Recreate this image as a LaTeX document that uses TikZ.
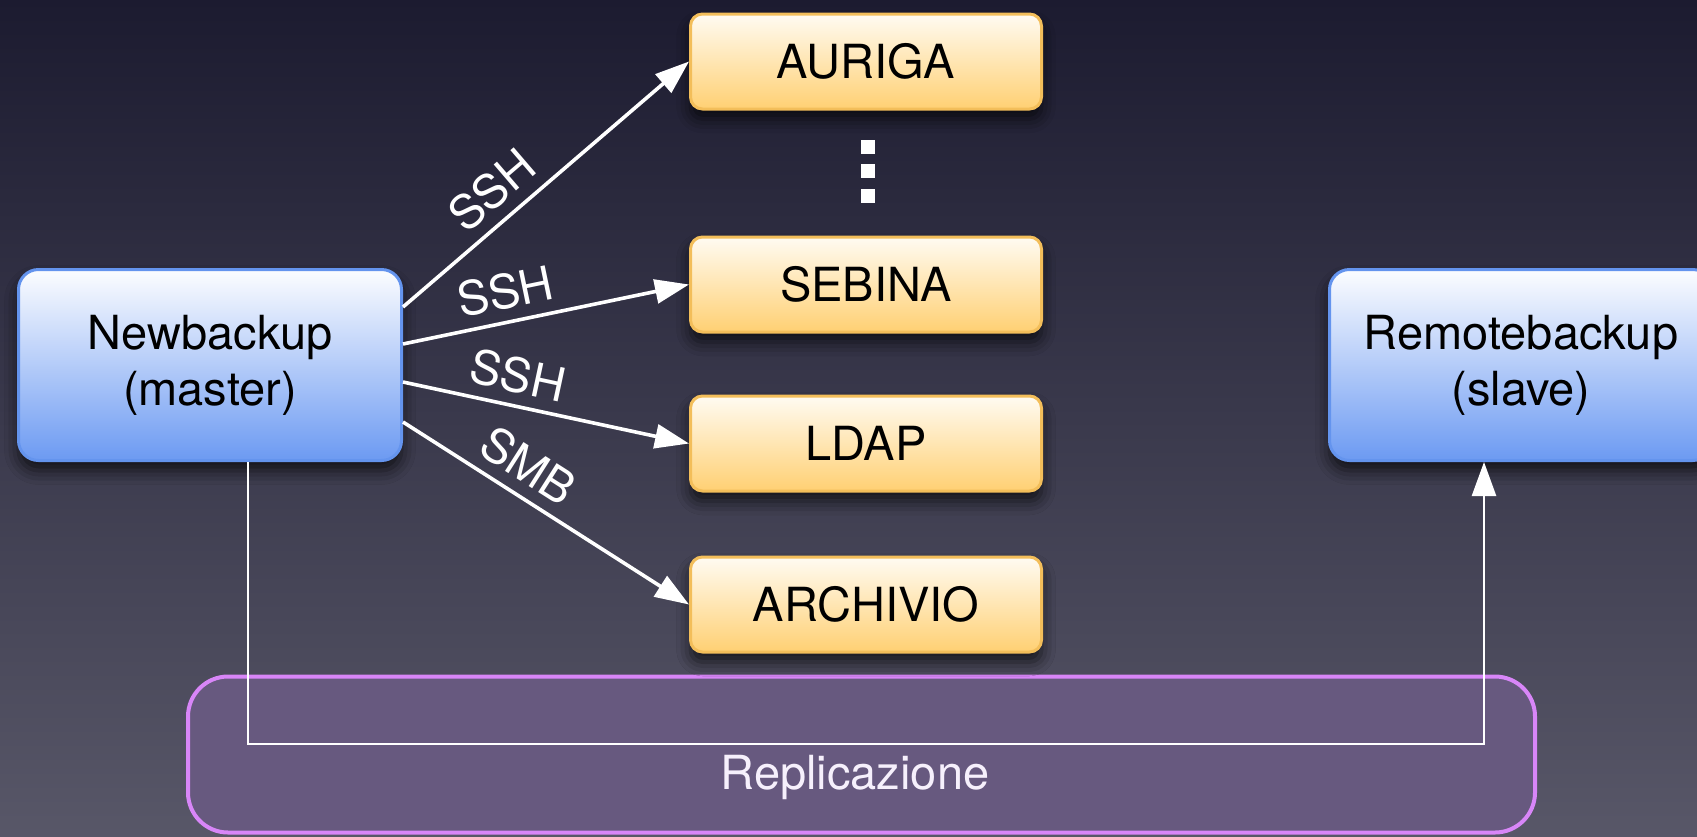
\documentclass[tikz,border=0pt]{standalone}
\usepackage{fontspec}
\setmainfont{TeX Gyre Heros}
\usetikzlibrary{arrows.meta,shadows.blur}
\definecolor{bgtop}{RGB}{28,27,48}
\definecolor{bgbot}{RGB}{88,87,104}
\definecolor{bluetop}{RGB}{252,253,255}
\definecolor{bluebot}{RGB}{108,154,242}
\definecolor{blueline}{RGB}{100,148,238}
\definecolor{orgtop}{RGB}{255,251,242}
\definecolor{orgbot}{RGB}{255,208,115}
\definecolor{orgline}{RGB}{243,190,90}
\definecolor{replfill}{RGB}{103,89,127}
\definecolor{replline}{RGB}{216,134,248}
\definecolor{repltext}{RGB}{246,240,252}
\tikzset{
  boxfont/.style={font=\fontsize{23.5}{28}\selectfont},
  hostbox/.style={draw=blueline, line width=1.5pt, rounded corners=10pt,
    top color=bluetop, bottom color=bluebot, minimum width=191.5pt,
    minimum height=95.5pt, align=center, boxfont,
    blur shadow={shadow xshift=0pt, shadow yshift=-5pt, shadow blur radius=7pt, shadow opacity=70}},
  srvbox/.style={draw=orgline, line width=1.5pt, rounded corners=6pt,
    top color=orgtop, bottom color=orgbot, minimum width=175.5pt,
    minimum height=47.5pt, boxfont,
    blur shadow={shadow xshift=0pt, shadow yshift=-5pt, shadow blur radius=7pt, shadow opacity=70}},
  link/.style={draw=white, line width=1.8pt, -{Triangle[length=17pt,width=12pt]}},
  proto/.style={text=white, boxfont, sloped, above=3.5pt, inner sep=2pt},
  replbox/.style={draw=replline, line width=2pt, rounded corners=20pt,
    fill=replfill, minimum width=673.5pt, minimum height=78pt},
  repline/.style={draw=white, line width=1.3pt, -{Triangle[length=17pt,width=12pt]}},
  vdot/.style={fill=white}
}
\begin{document}
\begin{tikzpicture}[x=0.5pt,y=-0.5pt]
\useasboundingbox (0,0) rectangle (1697,836);
\clip (0,0) rectangle (1697,836);
\shade[top color=bgtop, bottom color=bgbot] (0,0) rectangle (1697,836);

% replication area
\node[replbox] (repl) at (861.5,754.5) {};
\node[text=repltext, boxfont] (repltxt) at (855,777) {Replicazione};

% hosts
\node[hostbox] (nb) at (210,365) {Newbackup\\(master)};
\node[hostbox] (rb) at (1521,365) {Remotebackup\\(slave)};

% servers
\node[srvbox] (auriga) at (866,61.5) {AURIGA};
\node[srvbox] (sebina) at (866,284.5) {SEBINA};
\node[srvbox] (ldap) at (866,443.5) {LDAP};
\node[srvbox] (archivio) at (866,604.5) {ARCHIVIO};

% vertical ellipsis
\fill[vdot] (861,140) rectangle (875,154);
\fill[vdot] (861,164) rectangle (875,178);
\fill[vdot] (861,189) rectangle (875,203);

% links
\draw[link] ([yshift=29pt]nb.east) -- node[proto, pos=0.38] {SSH} (auriga.west);
\draw[link] ([yshift=10.5pt]nb.east) -- node[proto, pos=0.38] {SSH} (sebina.west);
\draw[link] ([yshift=-8.5pt]nb.east) -- node[proto, pos=0.38] {SSH} (ldap.west);
\draw[link] ([yshift=-28.5pt]nb.east) -- node[proto, pos=0.38] {SMB} (archivio.west);

% replication line
\coordinate (rl) at (866,744);
\draw[repline] ([xshift=19pt]nb.south) |- (rl) -| ([xshift=-18.5pt]rb.south);
\end{tikzpicture}
\end{document}
